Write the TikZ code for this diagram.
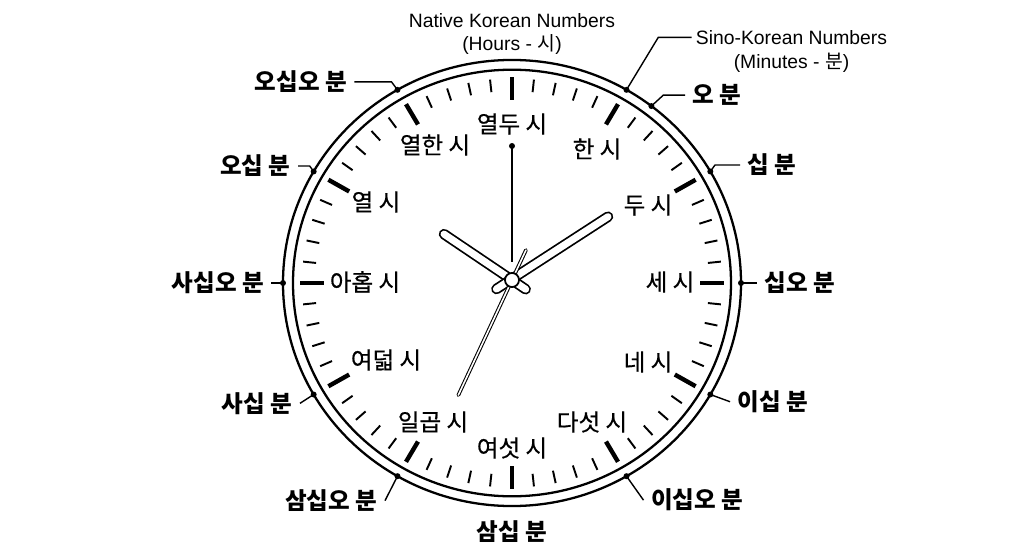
\documentclass[tikz,border=0pt]{standalone}
\usepackage{fontspec}
\setmainfont{Liberation Sans}
\newfontfamily\kr{Noto Sans CJK KR}
\newfontfamily\krmed[FakeBold=0.6]{Noto Sans CJK KR}
\usetikzlibrary{calc,positioning}
\tikzset{
  hourlabel/.style={font=\krmed\fontsize{13.4}{15}\selectfont, inner sep=0pt},
  minlabel/.style={font=\kr\bfseries\fontsize{13.4}{15}\selectfont, inner sep=4pt},
  titlelabel/.style={font=\fontsize{11}{12.6}\selectfont, align=center},
  leader/.style={line width=0.8pt},
  rim/.style={line width=1.3pt},
  majortick/.style={line width=2.5pt},
  minortick/.style={line width=1.1pt},
  hand/.style={double=white, line cap=round},
}

\begin{document}
\begin{tikzpicture}[x=0.02cm, y=0.02cm]
  \useasboundingbox (-512,-275) rectangle (512,283);
  \coordinate (hub) at (0,3);

  % dial, ring and ticks
  \begin{scope}[yscale=0.974]
    \draw[rim] (0,0) circle (229);
    \draw[rim] (0,0) circle (219);
    \foreach \m in {0,...,59}{
      \pgfmathtruncatemacro\r{mod(\m,5)}
      \ifnum\r=0
        \draw[majortick] (90-6*\m:188) -- (90-6*\m:212);
      \else
        \draw[minortick] (90-6*\m:197) -- (90-6*\m:210);
      \fi
    }
    \foreach \k in {1,...,11}
      \coordinate (d\k) at (90-30*\k:229);
    \coordinate (d0a) at (52.5:229);
  \end{scope}
  \foreach \k in {1,2,3,4,5,7,8,9,10,11}
    \fill (d\k) circle (3);
  \fill (d0a) circle (3);

  % titles
  \node[titlelabel] (native) at (0,249) {Native Korean Numbers\\(Hours - {\kr 시})};
  \draw[leader] (d1) -- ++(31.8,52.5) -- ++(33.4,0)
    node[titlelabel, anchor=west, inner sep=2pt] (sino) {Sino-Korean Numbers};
  \node[titlelabel, below=-1pt of sino] (sinomin) {(Minutes - {\kr 분})};

  % minute labels (Sino-Korean)
  \draw[leader] (d0a) -- ++(12,11) -- ++(21.7,0) node[minlabel, anchor=west] (m5) {오 분};
  \draw[leader] (d2) -- ++(4.7,6.5) -- ++(25,0) node[minlabel, anchor=west] (m10) {십 분};
  \draw[leader] (d3) -- ++(15.7,0) node[minlabel, anchor=west] (m15) {십오 분};
  \draw[leader] (d4) -- ++(19.7,-7.2) node[minlabel, anchor=west] (m20) {이십 분};
  \draw[leader] (d5) -- ++(17,-24) node[minlabel, anchor=west] (m25) {이십오 분};
  \node[minlabel] (m30) at (0,-249) {삼십 분};
  \draw[leader] (d7) -- ++(-12.5,-24.5) node[minlabel, anchor=east] (m35) {삼십오 분};
  \draw[leader] (d8) -- ++(-13.7,-8.8) node[minlabel, anchor=east] (m40) {사십 분};
  \draw[leader] (d9) -- ++(-11.5,0) node[minlabel, anchor=east] (m45) {사십오 분};
  \draw[leader] (d10) -- ++(-4,5.5) -- ++(-11.5,0) node[minlabel, anchor=east] (m50) {오십 분};
  \draw[leader] (d11) -- ++(-6,8) -- ++(-37,0) node[minlabel, anchor=east] (m55) {오십오 분};

  % hour labels (native Korean)
  \foreach \n/\x/\y/\t in {12/0/159/열두 시, 1/85/134/한 시, 2/136/78/두 시,
      3/158/1/세 시, 4/136/-79/네 시, 5/80/-139/다섯 시, 6/0/-165/여섯 시,
      7/-79/-139/일곱 시, 8/-126/-77/여덟 시, 9/-147/1/아홉 시,
      10/-136/81/열 시, 11/-77/138/열한 시}
    \node[hourlabel] (h\n) at (\x,\y) {\t};
  \coordinate (pin12) at (0,137);
  \coordinate (pinend) at (0,21);
  \draw[leader] (pin12) -- (pinend);
  \fill (pin12) circle (3);

  % hands
  \draw[hand, line width=1pt, double distance=4pt] ($(hub)+(326:16.5)$) -- ($(hub)+(146:82)$);
  \draw[hand, line width=1pt, double distance=4pt] ($(hub)+(210:18)$) -- ($(hub)+(33.4:115)$);
  \draw[hand, line width=0.6pt, double distance=0.9pt] ($(hub)+(245:127)$) -- ($(hub)+(65:33)$);
  \node[circle, draw, fill=white, line width=1pt, minimum size=8pt, inner sep=0pt] (pin) at (hub) {};
\end{tikzpicture}
\end{document}
